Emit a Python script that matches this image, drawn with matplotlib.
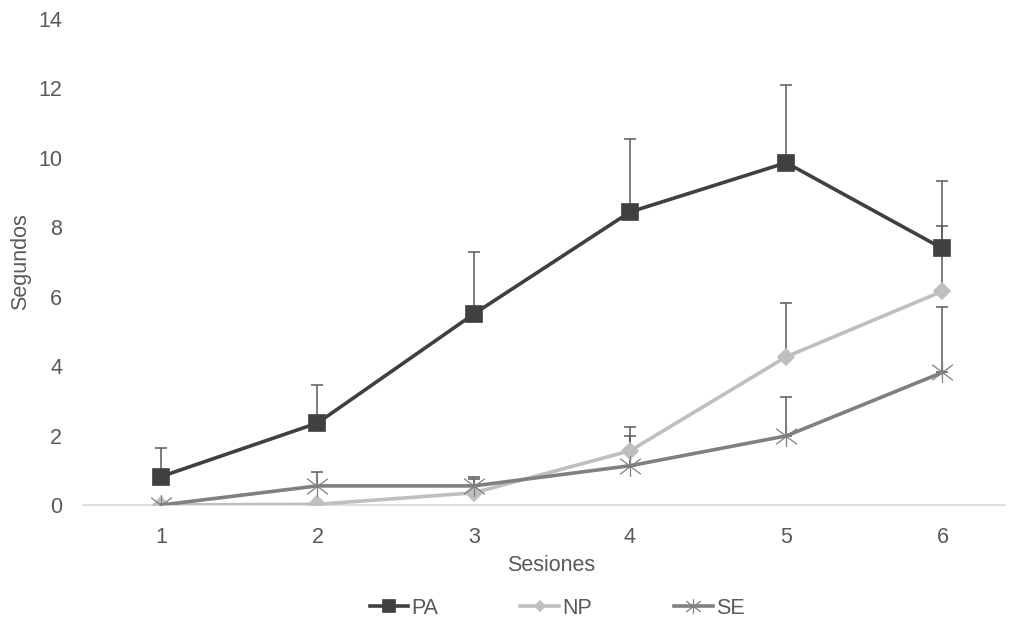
import numpy as np
import matplotlib.pyplot as plt
from matplotlib.path import Path

plt.rcParams['font.family'] = ['Liberation Sans', 'DejaVu Sans']

sesiones = [1, 2, 3, 4, 5, 6]

# medias por grupo (segundos)
pa = [0.82, 2.36, 5.50, 8.44, 9.86, 7.39]
np_ = [0.0, 0.02, 0.35, 1.56, 4.27, 6.16]
se = [0.0, 0.55, 0.55, 1.13, 1.99, 3.82]

# barras de error (solo hacia arriba)
pa_err = [0.81, 1.10, 1.79, 2.11, 2.24, 1.94]
np_err = [0.0, 0.0, 0.40, 0.70, 1.54, 1.87]
se_err = [0.0, 0.41, 0.27, 0.86, 1.11, 1.87]

txt = '#595959'
fs = 15.5

# marcador tipo asterisco: X + linea vertical
star = Path([(-1, -0.75), (1, 0.75), (-1, 0.75), (1, -0.75), (0, -1), (0, 1)],
            [Path.MOVETO, Path.LINETO, Path.MOVETO, Path.LINETO, Path.MOVETO, Path.LINETO])

fig = plt.figure(figsize=(10.09, 6.23), dpi=100)
ax = fig.add_axes([83/1009, 1 - 505/623, 922/1009, 486/623])

series = [
    ('PA', pa, pa_err, '#404040', 's', 12, 1.2),
    ('NP', np_, np_err, '#bfbfbf', 'D', 8, 1.2),
    ('SE', se, se_err, '#808080', star, 15, 0.9),
]

for name, y, err, col, mk, ms, mew in series:
    zeros = np.zeros(len(err))
    ax.errorbar(sesiones, y, yerr=[zeros, err], fmt='none', ecolor='#595959',
                elinewidth=1.1, capsize=4, capthick=1.1, zorder=2)
    ax.plot(sesiones, y, color=col, lw=2.6, marker=mk, markersize=ms,
            markerfacecolor=col, markeredgecolor=col, markeredgewidth=mew,
            label=name, zorder=3)

ax.set_xlim(0.5, 6.4)
ax.set_ylim(0, 14)
ax.set_yticks(np.arange(0, 15, 2))
ax.set_xticks(sesiones)

for s in ['top', 'right', 'left']:
    ax.spines[s].set_visible(False)
ax.spines['bottom'].set_color('#d9d9d9')
ax.spines['bottom'].set_linewidth(1.2)
ax.tick_params(axis='both', length=0, labelsize=fs, labelcolor=txt)
ax.tick_params(axis='y', pad=15)
ax.tick_params(axis='x', pad=16)

ax.set_xlabel('Sesiones', fontsize=fs, color=txt)
ax.xaxis.set_label_coords(0.508, -0.103)
ax.set_ylabel('Segundos', fontsize=fs, color=txt, labelpad=5)

leg = fig.legend(loc='center', bbox_to_anchor=(557/1009, 1 - 608/623), ncol=3,
                 frameon=False, fontsize=fs, handlelength=1.8, handletextpad=0.15,
                 columnspacing=3.8, markerscale=0.7)
for t in leg.get_texts():
    t.set_color(txt)

fig.savefig('out.png', dpi=100)
